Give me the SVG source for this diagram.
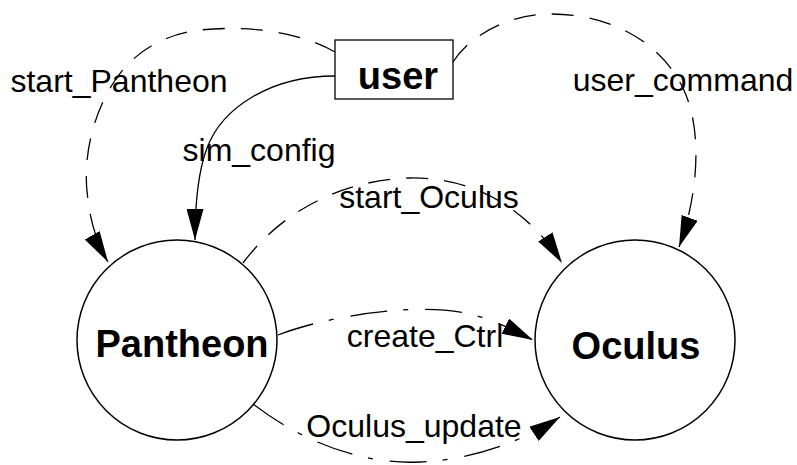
<svg xmlns="http://www.w3.org/2000/svg" width="797" height="465" viewBox="0 0 797 465">
  <style>
    .node { fill: #ffffff; stroke: #000000; stroke-width: 1.5; }
    .name { font-family: "Liberation Sans", Arial, Helvetica, sans-serif; font-weight: bold; font-size: 38px; fill: #000000; text-anchor: middle; }
    .label { font-family: "Liberation Sans", Arial, Helvetica, sans-serif; font-size: 32px; fill: #000000; text-anchor: middle; }
    .edge { fill: none; stroke: #000000; stroke-width: 1.3; marker-end: url(#arrow); }
    .dashed { stroke-dasharray: 22 16; }
    .dashdot { stroke-dasharray: 37 16 5 17; }
  </style>
  <defs>
    <marker id="arrow" markerUnits="userSpaceOnUse" viewBox="0 0 31 17" markerWidth="31" markerHeight="17" refX="31" refY="8.5" orient="auto">
      <path d="M0,0 L31,8.5 L0,17 Z" fill="#000000"/>
    </marker>
  </defs>

  <!-- nodes -->
  <g id="user">
    <rect class="node" x="335" y="40" width="118" height="59" style="stroke-width:1.3"/>
    <text class="name" x="398" y="89">user</text>
  </g>
  <g id="Pantheon">
    <circle class="node" cx="177" cy="340" r="100"/>
    <text class="name" x="182" y="357">Pantheon</text>
  </g>
  <g id="Oculus">
    <circle class="node" cx="635" cy="340" r="100"/>
    <text class="name" x="636" y="359">Oculus</text>
  </g>

  <!-- connectors -->
  <g id="connectors">
    <path class="edge dashed" d="M335,52 C300,32 250,25 200,30 C160,35 130,55 112,85 C92,118 82,160 88,200 C91,225 98,245 108,262"/>
    <text class="label" x="119" y="92">start_Pantheon</text>

    <path class="edge dashed" d="M453,62 C470,35 510,14 550,14 C620,14 668,50 686,95 C702,135 698,195 679,247"/>
    <text class="label" x="683" y="91">user_command</text>

    <path class="edge" d="M335,76 C270,76 222,108 207,148 C198,172 195,205 195,240"/>
    <text class="label" x="259" y="161">sim_config</text>

    <path class="edge dashed" d="M243,263 C280,213 340,180 410,178 C470,177 525,205 562,263"/>
    <text class="label" x="429" y="208">start_Oculus</text>

    <path class="edge dashdot" d="M278,335 C330,315 420,302 470,314 C495,320 515,331 533,340"/>
    <text class="label" x="425" y="347">create_Ctrl</text>

    <path class="edge dashdot" d="M253,404 C300,440 360,465 420,462 C470,460 520,443 560,417"/>
    <text class="label" x="414" y="437">Oculus_update</text>
  </g>
</svg>
